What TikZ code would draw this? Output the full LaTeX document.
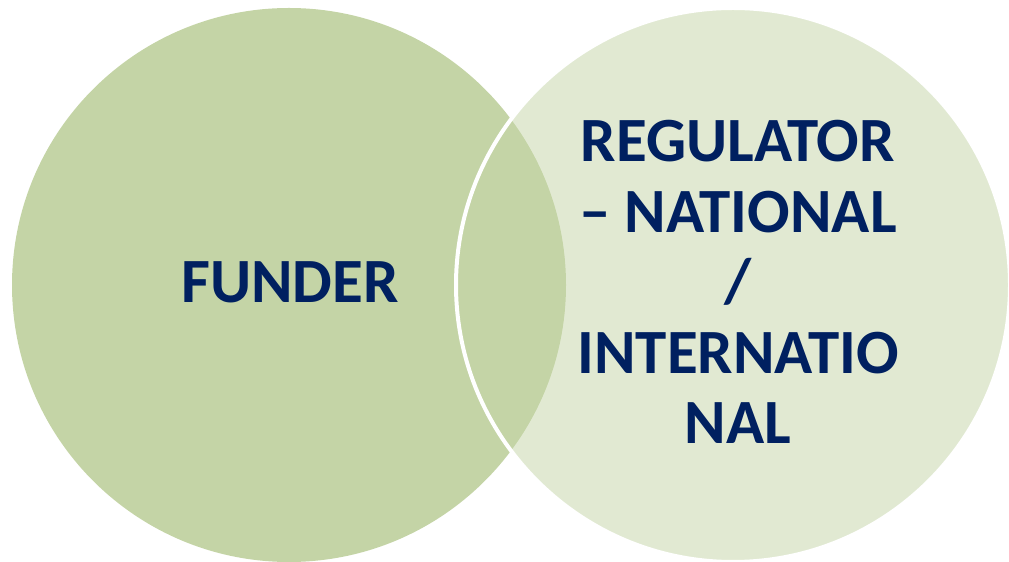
\documentclass[tikz,border=0pt]{standalone}
\usepackage{fontspec}
\setmainfont{Carlito}
\definecolor{leafgreen}{HTML}{C4D4A6}
\definecolor{navytext}{HTML}{002060}
\begin{document}
\begin{tikzpicture}[x=1pt,y=1pt,
  label text/.style={text=navytext, font=\bfseries\fontsize{63}{70.5}\selectfont,
    align=center, inner sep=0pt}]
  \useasboundingbox (0,0) rectangle (1009,562);
  % left set
  \fill[leafgreen] (289,277) circle[radius=277];
  % right set, half transparent with a white rim
  \fill[leafgreen, fill opacity=0.5] (733,277) circle[radius=277];
  \draw[white, line width=4pt] (733,277) circle[radius=277];
  \node[label text] (funder) at (290,280) {FUNDER};
  \node[label text] (regulator) at (738,280)
    {REGULATOR\\– NATIONAL\\/\\INTERNATIO\\NAL};
\end{tikzpicture}
\end{document}
